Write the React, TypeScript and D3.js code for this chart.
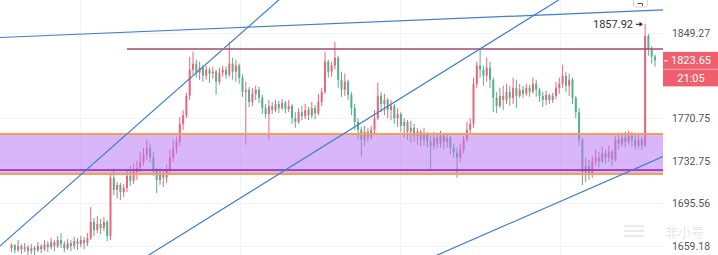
import React from 'react';
import * as d3 from 'd3';

// ---- data ----
const open = [
  1657.4, 1659.9, 1655.7, 1659.1, 1656.5, 1658.2, 1654.8, 1657.4, 1655.7, 1659.1,
  1656.5, 1660.8, 1658.2, 1662.5, 1659.1, 1664.2, 1660.8, 1657.4, 1661.6, 1659.1,
  1663.3, 1660.8, 1664.2, 1661.6, 1665.9, 1679.6, 1672.8, 1677.9, 1674.5, 1679.6,
  1667.6, 1717.8, 1707.2, 1711.6, 1705.4, 1709.0, 1719.6, 1715.2, 1723.1, 1726.7,
  1732.0, 1738.2, 1744.4, 1735.5, 1724.9, 1716.0, 1721.4, 1717.8, 1724.9, 1735.5,
  1743.5, 1749.7, 1765.7, 1773.4, 1791.0, 1815.1, 1820.6, 1812.3, 1816.9, 1809.5,
  1815.1, 1811.4, 1813.2, 1804.0, 1812.3, 1815.1, 1810.4, 1820.6, 1813.2, 1818.8,
  1807.7, 1794.7, 1796.6, 1785.5, 1792.9, 1796.6, 1789.2, 1779.9, 1774.4, 1781.8,
  1778.1, 1783.6, 1779.9, 1784.5, 1779.0, 1781.8, 1770.7, 1767.4, 1776.2, 1772.5,
  1778.1, 1773.4, 1779.9, 1775.3, 1785.5, 1794.7, 1822.5, 1813.2, 1818.8, 1826.2,
  1805.8, 1796.6, 1804.0, 1791.9, 1779.9, 1767.4, 1760.3, 1751.5, 1758.6, 1754.1,
  1760.3, 1770.7, 1791.0, 1783.6, 1787.3, 1778.1, 1781.8, 1770.7, 1774.4, 1763.9,
  1767.4, 1758.6, 1762.1, 1755.0, 1758.6, 1751.5, 1756.8, 1749.7, 1746.2, 1753.3,
  1748.0, 1755.0, 1749.7, 1753.3, 1744.4, 1740.0, 1735.5, 1742.6, 1751.5, 1760.3,
  1765.7, 1802.1, 1818.8, 1815.1, 1809.5, 1816.9, 1805.8, 1789.2, 1781.8, 1791.0,
  1787.3, 1794.7, 1789.2, 1798.4, 1791.0, 1796.6, 1792.9, 1798.4, 1794.7, 1802.1,
  1796.6, 1791.0, 1787.3, 1791.9, 1787.3, 1791.0, 1798.4, 1802.1, 1809.5, 1800.3,
  1805.8, 1789.2, 1776.2, 1751.5, 1723.1, 1728.4, 1721.4, 1732.0, 1735.5, 1732.0,
  1739.1, 1735.5, 1740.8, 1733.8, 1751.5, 1748.0, 1753.3, 1749.7, 1755.0, 1751.5,
  1746.2, 1751.5, 1746.2, 1846.5, 1833.6, 1827.1,
];
const close = [
  1659.9, 1655.7, 1659.1, 1656.5, 1658.2, 1654.8, 1657.4, 1655.7, 1659.1, 1656.5,
  1660.8, 1658.2, 1662.5, 1659.1, 1664.2, 1660.8, 1657.4, 1661.6, 1659.1, 1663.3,
  1660.8, 1664.2, 1661.6, 1665.9, 1679.6, 1672.8, 1677.9, 1674.5, 1679.6, 1667.6,
  1717.8, 1707.2, 1711.6, 1705.4, 1709.0, 1719.6, 1715.2, 1723.1, 1726.7, 1732.0,
  1738.2, 1744.4, 1735.5, 1724.9, 1716.0, 1721.4, 1717.8, 1724.9, 1735.5, 1743.5,
  1749.7, 1765.7, 1773.4, 1791.0, 1815.1, 1820.6, 1812.3, 1816.9, 1809.5, 1815.1,
  1811.4, 1813.2, 1804.0, 1812.3, 1815.1, 1810.4, 1820.6, 1813.2, 1818.8, 1807.7,
  1794.7, 1796.6, 1785.5, 1792.9, 1796.6, 1789.2, 1779.9, 1774.4, 1781.8, 1778.1,
  1783.6, 1779.9, 1784.5, 1779.0, 1781.8, 1770.7, 1767.4, 1776.2, 1772.5, 1778.1,
  1773.4, 1779.9, 1775.3, 1785.5, 1794.7, 1822.5, 1813.2, 1818.8, 1826.2, 1805.8,
  1796.6, 1804.0, 1791.9, 1779.9, 1767.4, 1760.3, 1751.5, 1758.6, 1754.1, 1760.3,
  1770.7, 1791.0, 1783.6, 1787.3, 1778.1, 1781.8, 1770.7, 1774.4, 1763.9, 1767.4,
  1758.6, 1762.1, 1755.0, 1758.6, 1751.5, 1756.8, 1749.7, 1746.2, 1753.3, 1748.0,
  1755.0, 1749.7, 1753.3, 1744.4, 1740.0, 1735.5, 1742.6, 1751.5, 1760.3, 1765.7,
  1802.1, 1818.8, 1815.1, 1809.5, 1816.9, 1805.8, 1789.2, 1781.8, 1791.0, 1787.3,
  1794.7, 1789.2, 1798.4, 1791.0, 1796.6, 1792.9, 1798.4, 1794.7, 1802.1, 1796.6,
  1791.0, 1787.3, 1791.9, 1787.3, 1791.0, 1798.4, 1802.1, 1809.5, 1800.3, 1805.8,
  1789.2, 1776.2, 1751.5, 1723.1, 1728.4, 1721.4, 1732.0, 1735.5, 1732.0, 1739.1,
  1735.5, 1740.8, 1733.8, 1751.5, 1748.0, 1753.3, 1749.7, 1755.0, 1751.5, 1746.2,
  1751.5, 1746.2, 1846.5, 1833.6, 1827.1, 1823.65,
];
const high = [
  1661.6, 1660.8, 1664.2, 1660.8, 1661.6, 1659.9, 1660.8, 1659.1, 1662.5, 1660.8,
  1664.2, 1663.3, 1665.9, 1664.2, 1667.6, 1670.2, 1663.3, 1665.1, 1664.2, 1666.8,
  1665.9, 1667.6, 1666.8, 1670.2, 1692.4, 1683.0, 1684.7, 1682.2, 1683.9, 1681.2,
  1720.5, 1725.8, 1714.3, 1713.4, 1712.5, 1724.9, 1728.4, 1730.2, 1732.9, 1740.8,
  1744.4, 1751.5, 1748.0, 1740.8, 1726.7, 1726.7, 1724.9, 1729.3, 1742.6, 1751.5,
  1754.1, 1771.6, 1778.1, 1793.8, 1827.1, 1831.7, 1824.3, 1822.5, 1819.7, 1818.8,
  1816.9, 1817.8, 1815.1, 1816.9, 1818.8, 1817.8, 1841.0, 1826.2, 1824.3, 1820.6,
  1810.4, 1804.0, 1799.3, 1798.4, 1800.3, 1799.3, 1791.9, 1783.6, 1787.3, 1785.5,
  1787.3, 1786.4, 1788.2, 1786.4, 1787.3, 1783.6, 1776.2, 1779.9, 1781.8, 1783.6,
  1780.8, 1785.5, 1782.7, 1792.9, 1798.4, 1831.7, 1824.3, 1822.5, 1841.0, 1828.0,
  1813.2, 1811.4, 1805.8, 1794.7, 1783.6, 1770.7, 1763.0, 1763.9, 1762.1, 1763.9,
  1778.1, 1803.0, 1794.7, 1792.9, 1789.2, 1787.3, 1783.6, 1779.9, 1776.2, 1770.7,
  1769.0, 1768.3, 1765.7, 1762.1, 1760.3, 1762.1, 1758.6, 1755.0, 1758.6, 1756.8,
  1759.5, 1757.7, 1757.7, 1755.0, 1748.0, 1744.4, 1748.0, 1755.0, 1767.4, 1770.7,
  1807.7, 1822.5, 1835.4, 1818.8, 1826.2, 1822.5, 1807.7, 1794.7, 1798.4, 1800.3,
  1802.1, 1800.3, 1807.7, 1805.8, 1802.1, 1800.3, 1802.1, 1801.2, 1807.7, 1805.8,
  1798.4, 1794.7, 1795.6, 1792.9, 1793.8, 1804.0, 1807.7, 1819.7, 1813.2, 1811.4,
  1807.7, 1791.0, 1779.9, 1753.3, 1735.5, 1733.8, 1737.3, 1742.6, 1740.8, 1745.3,
  1742.6, 1746.2, 1742.6, 1755.0, 1756.8, 1757.7, 1758.6, 1759.5, 1758.6, 1756.8,
  1756.8, 1754.1, 1857.92, 1848.4, 1837.2, 1829.0,
];
const low = [
  1654.0, 1653.1, 1654.0, 1652.3, 1654.0, 1651.4, 1652.3, 1651.4, 1654.0, 1653.1,
  1654.8, 1654.0, 1656.5, 1654.8, 1657.4, 1657.4, 1654.0, 1655.7, 1654.8, 1656.5,
  1655.7, 1658.2, 1656.5, 1659.1, 1664.2, 1667.6, 1670.2, 1669.3, 1671.9, 1663.3,
  1664.2, 1702.8, 1700.1, 1698.4, 1701.0, 1705.4, 1710.7, 1712.5, 1716.0, 1723.1,
  1728.4, 1733.8, 1731.1, 1719.6, 1704.5, 1711.6, 1709.8, 1713.4, 1722.2, 1732.0,
  1739.1, 1746.2, 1760.3, 1770.7, 1787.3, 1810.4, 1807.7, 1805.8, 1804.0, 1805.8,
  1803.0, 1806.7, 1791.9, 1801.2, 1808.6, 1806.7, 1808.6, 1805.8, 1804.0, 1802.1,
  1790.1, 1747.1, 1780.8, 1781.8, 1787.3, 1784.5, 1774.4, 1770.7, 1751.5, 1774.4,
  1776.2, 1775.3, 1778.1, 1775.3, 1776.2, 1765.7, 1762.1, 1765.7, 1769.0, 1769.8,
  1769.0, 1770.7, 1769.8, 1773.4, 1781.8, 1792.9, 1807.7, 1808.6, 1815.1, 1798.4,
  1790.1, 1791.0, 1787.3, 1773.4, 1760.3, 1751.5, 1736.4, 1746.2, 1749.7, 1751.5,
  1756.8, 1769.0, 1776.2, 1773.4, 1770.7, 1769.0, 1765.7, 1763.0, 1758.6, 1753.3,
  1751.5, 1748.8, 1749.7, 1747.1, 1745.3, 1746.2, 1744.4, 1724.9, 1742.6, 1743.5,
  1744.4, 1742.6, 1744.4, 1738.2, 1735.5, 1717.8, 1732.0, 1739.1, 1749.7, 1756.8,
  1762.1, 1798.4, 1807.7, 1800.3, 1804.0, 1798.4, 1776.2, 1775.3, 1779.9, 1778.1,
  1783.6, 1781.8, 1783.6, 1779.9, 1789.2, 1789.2, 1791.0, 1790.1, 1792.9, 1790.1,
  1785.5, 1780.8, 1782.7, 1783.6, 1784.5, 1788.2, 1792.9, 1798.4, 1794.7, 1791.0,
  1783.6, 1770.7, 1746.2, 1711.6, 1714.3, 1716.0, 1717.8, 1728.4, 1726.7, 1731.1,
  1730.2, 1732.0, 1728.4, 1732.0, 1742.6, 1745.3, 1744.4, 1747.1, 1745.3, 1742.6,
  1743.5, 1742.6, 1744.4, 1828.0, 1820.6, 1817.8,
];

const priceTicks = [1849.27, 1770.75, 1732.75, 1695.56, 1659.18];
const lastPrice = 1823.65;
const highLabel = 1857.92;
const countdown = '21:05';
const watermark = '非小号';

// drawings: [barIndex, price] anchor pairs
const trendLines: [number, number][][] = [
  [[0, 1845.5], [195, 1870.8]],
  [[0, 1667.8], [66, 1839.3]],
  [[103, 1761.1], [142, 1834.4]],
  [[135, 1658.8], [195, 1733.4]],
];
const resistance = { price: 1834.3, fromBar: 35 };
const zoneTop = 1756.6;
const zoneBottom = 1721.2;
const zoneMid = 1724.7;

const W = 718;
const H = 255;
const PR = 663; // right edge of plot

export default function App() {
  const N = close.length;
  const x = d3.scaleLinear().domain([0, N - 1]).range([11.5, 655]);
  const y = d3.scaleLog().domain([1659.18, 1849.27]).range([246, 33]);
  const upC = '#e8667a';
  const dnC = '#55b08e';
  const font = 'Roboto, "Noto Sans", Arial, sans-serif';

  const extend = (a: [number, number], b: [number, number]) => {
    const x1 = x(a[0]), y1 = y(a[1]), x2 = x(b[0]), y2 = y(b[1]);
    const k = (y2 - y1) / (x2 - x1);
    return { x1: -5, y1: y1 + k * (-5 - x1), x2: PR, y2: y1 + k * (PR - x1) };
  };

  const lp = y(lastPrice);
  const hy = y(highLabel);

  return (
    <svg width={W} height={H} style={{ position: 'absolute', left: 0, top: 0, background: '#fff' }}>
      <defs>
        <clipPath id="plot"><rect x={0} y={0} width={PR} height={H} /></clipPath>
      </defs>
      <rect x={0} y={0} width={W} height={H} fill="#fff" />
      {/* grid */}
      <g stroke="#f2f3f5" strokeWidth={1}>
        {priceTicks.map((t) => (
          <line key={t} x1={0} x2={PR} y1={Math.round(y(t)) + 0.5} y2={Math.round(y(t)) + 0.5} />
        ))}
        {[80, 240, 400, 560].map((gx) => (
          <line key={gx} x1={gx + 0.5} x2={gx + 0.5} y1={0} y2={H} />
        ))}
      </g>
      {/* watermark */}
      <g opacity={0.55}>
        <rect x={624} y={225} width={20} height={2} fill="#d8d8d8" />
        <rect x={624} y={230} width={20} height={2} fill="#d8d8d8" />
        <rect x={624} y={235} width={20} height={2} fill="#d8d8d8" />
        <text x={704} y={236.5} textAnchor="end" fontFamily='"Noto Sans CJK SC", sans-serif' fontSize={13} fill="#d4d4d4">{watermark}</text>
      </g>
      <g clipPath="url(#plot)">
        {/* candles */}
        {close.map((c, i) => {
          const o = open[i];
          const col = c >= o ? upC : dnC;
          const cx = x(i);
          const top = y(Math.max(o, c));
          const bot = y(Math.min(o, c));
          return (
            <g key={i}>
              <line x1={cx} x2={cx} y1={y(high[i])} y2={y(low[i])} stroke={col} strokeWidth={1} />
              <rect x={cx - 1} y={top} width={2} height={Math.max(1, bot - top)} fill={col} />
            </g>
          );
        })}
        {/* zone */}
        <rect x={0} y={y(zoneTop)} width={PR} height={y(zoneBottom) - y(zoneTop)} fill="rgba(186,120,245,0.55)" />
        <line x1={0} x2={PR} y1={y(zoneTop)} y2={y(zoneTop)} stroke="#f5a04f" strokeWidth={2} />
        <line x1={0} x2={PR} y1={y(zoneBottom)} y2={y(zoneBottom)} stroke="#f5a04f" strokeWidth={2} />
        <line x1={0} x2={PR} y1={y(zoneMid)} y2={y(zoneMid)} stroke="#8e24aa" strokeWidth={1.5} />
        {/* resistance */}
        <line x1={x(resistance.fromBar)} x2={PR} y1={y(resistance.price)} y2={y(resistance.price)} stroke="#a8476e" strokeWidth={1.5} />
        {/* trend lines */}
        {trendLines.map((tl, i) => {
          const s = extend(tl[0], tl[1]);
          return <line key={i} {...s} stroke="#3f7fd0" strokeWidth={1.2} />;
        })}
      </g>
      {/* high label */}
      <text x={633} y={hy + 4} textAnchor="end" fontFamily={font} fontSize={11} fill="#333">{highLabel.toFixed(2)}</text>
      <line x1={636} x2={642} y1={hy + 0.5} y2={hy + 0.5} stroke="#333" strokeWidth={1.2} />
      <path d={`M643,${hy + 0.5} L639.5,${hy - 2} L639.5,${hy + 3} Z`} fill="#333" />
      {/* top icon */}
      <rect x={633.5} y={-3} width={14} height={10} rx={2} fill="#fff" stroke="#d6d6d6" />
      <path d="M637.5,3.5 L642.5,3.5 L642.5,6" fill="none" stroke="#555" strokeWidth={1} />
      {/* axis labels */}
      {priceTicks.map((t) => (
        <text key={t} x={691} y={y(t) + 4} textAnchor="middle" fontFamily={font} fontSize={10.5} fill="#555">{t.toFixed(2)}</text>
      ))}
      {/* last price boxes */}
      <rect x={PR} y={lp - 8.5} width={W - PR} height={17} fill="#ef5f6d" />
      <rect x={PR} y={lp + 9} width={W - PR} height={17} fill="#ef5f6d" />
      <line x1={664} x2={668} y1={lp + 0.5} y2={lp + 0.5} stroke="#fff" strokeWidth={1} />
      <text x={691} y={lp + 4} textAnchor="middle" fontFamily={font} fontSize={11} fill="#fff">{lastPrice.toFixed(2)}</text>
      <text x={691} y={lp + 21.5} textAnchor="middle" fontFamily={font} fontSize={11} fill="#fff">{countdown}</text>
    </svg>
  );
}
